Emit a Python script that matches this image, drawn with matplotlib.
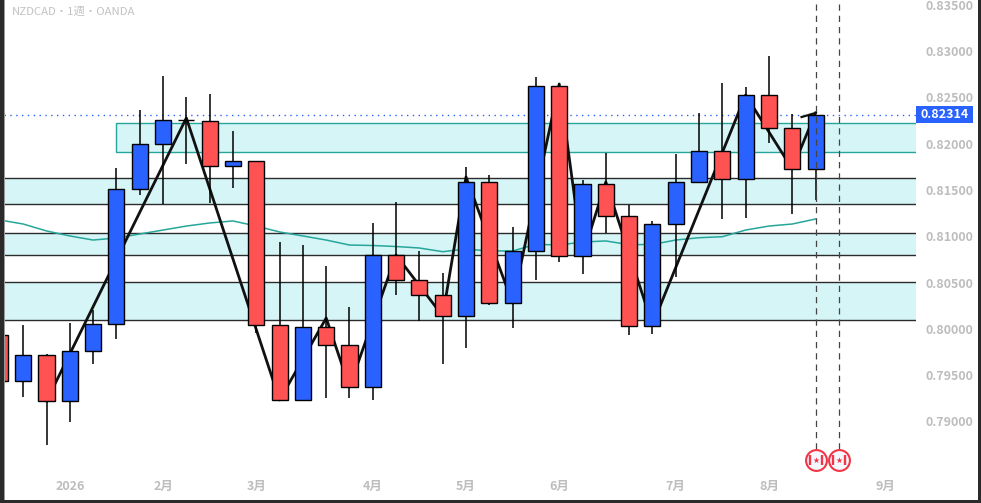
import matplotlib
matplotlib.use("Agg")
import matplotlib.pyplot as plt
from matplotlib.patches import Rectangle
from matplotlib.transforms import ScaledTranslation

plt.rcParams['font.family'] = ['Noto Sans CJK JP', 'DejaVu Sans']

opens = [.79934,.79437,.79718,.79221,.79761,.80052,.81510,.81996,.82250,.82244,.81758,.81812,
         .80042,.79232,.80020,.79826,.79372,.80797,.80527,.80366,.80139,.81586,.80279,.80841,
         .82622,.80787,.81564,.81219,.80031,.81132,.81586,.81920,.81618,.82525,.82169,.81726]
closes = [.79437,.79718,.79221,.79761,.80052,.81510,.81996,.82255,.82250,.81758,.81812,.80042,
          .79232,.80020,.79826,.79372,.80797,.80527,.80366,.80139,.81586,.80279,.80841,.82622,
          .80787,.81564,.81219,.80031,.81132,.81586,.81920,.81618,.82525,.82169,.81726,.82314]
highs = [.79934,.80042,.79729,.80063,.80204,.81737,.82363,.82730,.82503,.82536,.82136,.81812,
         .80938,.80905,.80679,.80236,.81143,.81370,.80841,.80603,.81748,.81661,.81100,.82719,
         .82644,.81607,.81899,.81337,.81165,.81888,.82331,.82654,.82611,.82946,.82320,.82314]
lows = [.79437,.79264,.78746,.78994,.79621,.79890,.81445,.81348,.81780,.81359,.81521,.79955,
        .79232,.79232,.79253,.79253,.79232,.80366,.80085,.79621,.79793,.80258,.80009,.80527,
        .80722,.80592,.81035,.79934,.79944,.80560,.81586,.81186,.81197,.82007,.81240,.81391]
ma = [.81175,.81132,.81057,.81003,.80959,.80981,.81024,.81067,.81110,.81143,.81165,.81110,
      .81046,.81003,.80959,.80905,.80900,.80889,.80873,.80833,.80862,.80841,.80841,.80913,
      .80905,.80938,.80949,.80909,.80911,.80959,.80984,.80995,.81067,.81110,.81132,.81186]
zig_x = [2, 8, 12, 14, 15, 17, 19, 20, 22, 24, 25, 26, 28, 32, 34, 35]
zig_y = [.79221,.82277,.79232,.80117,.79372,.80797,.80139,.81640,.80279,.82644,.80787,.81586,
         .80042,.82525,.81726,.82331]
stub_x = [34.4, 35]
stub_y = [.82287, .82331]
dark_zones = [(.81348,.81626), (.80797,.81030), (.80101,.80506)]
teal_zone = (.81906, .82219)
teal_start = 4.97
last_price = .82314
event_x = [35, 36]
event_y = .78589
price_ticks = [.79, .795, .80, .805, .81, .815, .82, .825, .83, .835]
month_pos = [3, 7, 11, 16, 20, 24, 29, 33, 38]
month_lab = ['2026', '2月', '3月', '4月', '5月', '6月', '7月', '8月', '9月']
title = 'NZDCAD・1週・OANDA'

BLUE, RED = '#2962ff', '#ff5252'
FILL, TEAL, GREY = '#d6f5f7', '#26a69a', '#bdbdbd'
W, H = 981, 503
fig = plt.figure(figsize=(W/100, H/100), dpi=100, facecolor='white')
ax = fig.add_axes([4/W, 1-474/H, 912/W, 474/H])
xmin, xmax = 0.175, 39.31
ax.set_xlim(xmin, xmax)
ax.set_ylim(.83 - (474-51)/9262, .83 + 51/9262)
for s in ax.spines.values():
    s.set_visible(False)

for lo, hi in dark_zones:
    ax.axhspan(lo, hi, color=FILL, lw=0, zorder=1)
    ax.axhline(lo, color='#2b2b2b', lw=1.0, zorder=1.5)
    ax.axhline(hi, color='#2b2b2b', lw=1.0, zorder=1.5)
ax.add_patch(Rectangle((teal_start, teal_zone[0]), xmax-teal_start+1, teal_zone[1]-teal_zone[0],
                       facecolor=FILL, edgecolor=TEAL, lw=1.0, zorder=1))
ax.axhline(last_price, color=BLUE, lw=1.0, ls=(0, (1, 3.2)), zorder=2)
ax.plot(range(len(ma)), ma, color=TEAL, lw=1.1, zorder=2.5)
ax.plot(zig_x, zig_y, color='#111111', lw=2.0, zorder=3)
ax.plot(stub_x, stub_y, color='#111111', lw=1.6, zorder=3)

for i, (o, h, l, c) in enumerate(zip(opens, highs, lows, closes)):
    col = BLUE if c > o else RED
    ax.plot([i, i], [l, h], color='black', lw=1.1, zorder=4, solid_capstyle='butt')
    ax.add_patch(Rectangle((i-0.345, min(o, c)), 0.69, abs(c-o), facecolor=col if c != o else 'black',
                           edgecolor='black', lw=1.0, zorder=5))

for x in event_x:
    ax.plot([x, x], [event_y + 11/9262, ax.get_ylim()[1]], color='#444444', lw=0.9,
            ls=(0, (5, 4)), zorder=6)
    ax.scatter([x], [event_y], s=225, facecolor='#f6f8ff', edgecolor='#f23645', lw=1.5, zorder=7)
    for dx in (-6.0, 6.0):
        tr = ax.transData + ScaledTranslation(dx/100, 0, fig.dpi_scale_trans)
        ax.scatter([x], [event_y], s=45, marker='|', color='#f23645', lw=1.7, zorder=8, transform=tr)
    ax.scatter([x], [event_y], s=22, marker='*', color='#f23645', lw=0, zorder=8)

ax.yaxis.tick_right()
ax.set_yticks(price_ticks)
ax.set_yticklabels([f'{t:.5f}' for t in price_ticks])
ax.tick_params(axis='y', length=0, pad=6.5, labelcolor=GREY, labelsize=9.0)
ax.set_xticks(month_pos)
ax.set_xticklabels(month_lab)
ax.tick_params(axis='x', length=0, pad=4, labelcolor=GREY, labelsize=9)
for t in ax.get_xticklabels() + ax.get_yticklabels():
    t.set_fontweight('bold')

fig.text(12/W, 1-11.5/H, title, color='#c2c2c2', fontsize=8.2, va='center', ha='left')

ax.add_patch(Rectangle((1, last_price - 8.5/9262), 57/912, 17/9262, transform=ax.get_yaxis_transform(),
                       facecolor=BLUE, edgecolor='none', clip_on=False, zorder=9))
ax.annotate(f'{last_price:.5f}', xy=(1, last_price), xycoords=('axes fraction', 'data'),
            xytext=(29, 0), textcoords='offset pixels', color='white', fontsize=9.0, fontweight='bold',
            ha='center', va='center', zorder=10, annotation_clip=False)

for rect in [(0, 0, 4/W, 1), (0, 0, 1, 3/H), (978/W, 0, 3/W, 1)]:
    fig.add_artist(Rectangle(rect[:2], rect[2], rect[3], transform=fig.transFigure,
                             facecolor='#2a2a2a', edgecolor='none'))
fig.add_artist(Rectangle((4/W, 3/H), 1/W, 1-3/H, transform=fig.transFigure, facecolor='#9a9a9a', edgecolor='none'))
fig.savefig('out.png', dpi=100, facecolor='white')
